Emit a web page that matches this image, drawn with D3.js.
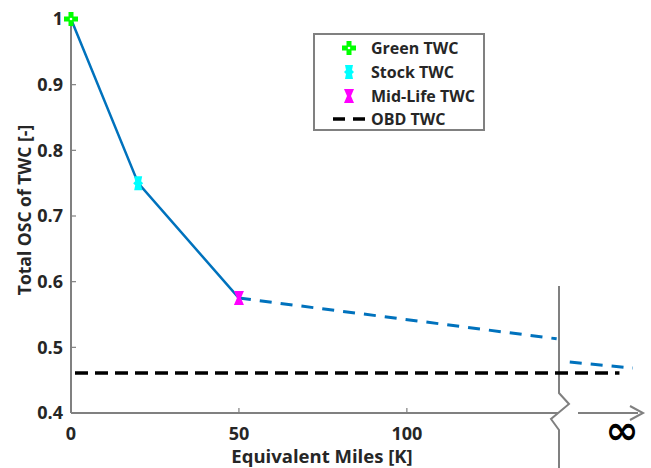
<!DOCTYPE html>
<html><head><meta charset="utf-8">
<script src="https://cdn.jsdelivr.net/npm/d3@7"></script>
<style>body{margin:0;background:#fff;}svg{display:block;font-family:"Open Sans",sans-serif;}</style>
</head><body>
<svg id="c" width="651" height="468"></svg>
<script>
// ---- data ----
const xTicks = [0, 50, 100];
const yTicks = [0.4, 0.5, 0.6, 0.7, 0.8, 0.9, 1];
const measuredMiles = [0, 20, 50];
const measuredOsc = [1.0, 0.75, 0.575];
const projMiles = [50, 144.6];
const projOsc = [0.575, 0.513];
const projAfterMiles = [148.5, 167.3];
const projAfterOsc = [0.4775, 0.4685];
const obdMiles = [0, 163.3];
const obdOsc = [0.461, 0.461];
const legendLabels = ["Green TWC", "Stock TWC", "Mid-Life TWC", "OBD TWC"];

const svg = d3.select("#c");
const x = d3.scaleLinear().domain([0, 145]).range([71, 558]);
const y = d3.scaleLinear().domain([0.4, 1]).range([413, 19]);
const gray = "#808080", txt = "#262626", blue = "#0072BD";

// axes lines
svg.append("line").attr("x1", x(0)).attr("x2", x(0)).attr("y1", y(1)).attr("y2", y(0.4))
  .attr("stroke", gray).attr("stroke-width", 2);
svg.append("line").attr("x1", x(0)).attr("x2", 558).attr("y1", y(0.4)).attr("y2", y(0.4))
  .attr("stroke", gray).attr("stroke-width", 2);

// y ticks
const ya = svg.append("g");
yTicks.forEach(t => {
  if (t > 0.4 && t < 1) ya.append("line").attr("x1", x(0)).attr("x2", x(0) + 5)
    .attr("y1", y(t)).attr("y2", y(t)).attr("stroke", gray).attr("stroke-width", 1.2);
  ya.append("text").attr("x", 63).attr("y", y(t)).attr("dy", "0.36em")
    .attr("text-anchor", "end").attr("font-size", 18).attr("font-weight", "bold")
    .attr("fill", txt).text(d3.format("")(t));
});
// x ticks
xTicks.forEach(t => {
  if (t > 0) svg.append("line").attr("x1", x(t)).attr("x2", x(t))
    .attr("y1", y(0.4)).attr("y2", y(0.4) - 5).attr("stroke", gray).attr("stroke-width", 1.2);
  svg.append("text").attr("x", x(t)).attr("y", 440).attr("text-anchor", "middle")
    .attr("font-size", 18).attr("font-weight", "bold").attr("fill", txt).text(t);
});
svg.append("text").attr("x", 322).attr("y", 463).attr("text-anchor", "middle")
  .attr("font-size", 18.5).attr("font-weight", "bold").attr("fill", txt).text("Equivalent Miles [K]");
svg.append("text").attr("transform", "translate(31,210) rotate(-90)").attr("text-anchor", "middle")
  .attr("font-size", 17.5).attr("font-weight", "bold").attr("fill", txt).text("Total OSC of TWC [-]");

// axis break
const bx = 559;
svg.append("path").attr("d", `M${bx},286 L${bx},393 L569,404 L551,419 L${bx},430 L${bx},468`)
  .attr("fill", "none").attr("stroke", gray).attr("stroke-width", 2);
svg.append("line").attr("x1", 578).attr("x2", 638).attr("y1", y(0.4)).attr("y2", y(0.4))
  .attr("stroke", gray).attr("stroke-width", 2);
svg.append("path").attr("d", `M630,406 L643,413 L630,420`).attr("fill", "none")
  .attr("stroke", gray).attr("stroke-width", 2);
svg.append("text").attr("x", 622).attr("y", 444).attr("text-anchor", "middle")
  .attr("font-family", "DejaVu Sans").attr("font-size", 40).attr("font-weight", "bold")
  .attr("font-style", "italic").attr("fill", "#000").text("∞");

const line = d3.line().x(d => x(d[0])).y(d => y(d[1]));
// OBD
svg.append("path").datum(obdMiles.map((m, i) => [m, obdOsc[i]])).attr("d", line)
  .attr("fill", "none").attr("stroke", "#000").attr("stroke-width", 3.5).attr("stroke-dasharray", "13,7")
  .attr("stroke-dashoffset", -4);
// projected
svg.append("path").datum(projMiles.map((m, i) => [m, projOsc[i]])).attr("d", line)
  .attr("fill", "none").attr("stroke", blue).attr("stroke-width", 3).attr("stroke-dasharray", "12,9");
svg.append("path").datum(projAfterMiles.map((m, i) => [m, projAfterOsc[i]])).attr("d", line)
  .attr("fill", "none").attr("stroke", blue).attr("stroke-width", 3).attr("stroke-dasharray", "12,9");
// measured
svg.append("path").datum(measuredMiles.map((m, i) => [m, measuredOsc[i]])).attr("d", line)
  .attr("fill", "none").attr("stroke", blue).attr("stroke-width", 2.5);

// markers
const plusPath = "M-2.5,-7 L2.5,-7 L2.5,-2.5 L7,-2.5 L7,2.5 L2.5,2.5 L2.5,7 L-2.5,7 L-2.5,2.5 L-7,2.5 L-7,-2.5 L-2.5,-2.5 Z";
const stockPath = "M-4,-7 L4,-7 L3,-2 L5,0 L3,2 L4,7 L-4,7 L-3,2 L-5,0 L-3,-2 Z";
const midPath = "M-5,-7 L5,-7 L2,0 L5,7 L-5,7 L-2,0 Z";
const markers = [
  {p: plusPath, c: "#00FF00"}, {p: stockPath, c: "#00FFFF"}, {p: midPath, c: "#FF00FF"}
];
measuredMiles.forEach((m, i) => {
  const g = svg.append("g").attr("transform", `translate(${x(m)},${y(measuredOsc[i])})`);
  g.append("path").attr("d", markers[i].p).attr("fill", markers[i].c);
  if (i === 0) g.append("circle").attr("r", 1.3).attr("fill", "#fff");
});

// legend
const lg = svg.append("g");
lg.append("rect").attr("x", 314).attr("y", 34).attr("width", 170).attr("height", 96)
  .attr("fill", "#fff").attr("stroke", gray).attr("stroke-width", 2);
const ly = [48, 72, 96, 119];
legendLabels.forEach((l, i) => {
  if (i < 3) {
    const g = lg.append("g").attr("transform", `translate(349,${ly[i]})`);
    g.append("path").attr("d", markers[i].p).attr("fill", markers[i].c);
    if (i === 0) g.append("circle").attr("r", 1.3).attr("fill", "#fff");
  } else {
    lg.append("line").attr("x1", 333).attr("x2", 365).attr("y1", ly[i]).attr("y2", ly[i])
      .attr("stroke", "#000").attr("stroke-width", 3.5).attr("stroke-dasharray", "12,8");
  }
  lg.append("text").attr("x", 371).attr("y", ly[i]).attr("dy", "0.36em")
    .attr("font-size", 16).attr("font-weight", "bold").attr("fill", txt).text(l);
});
</script>
</body></html>
